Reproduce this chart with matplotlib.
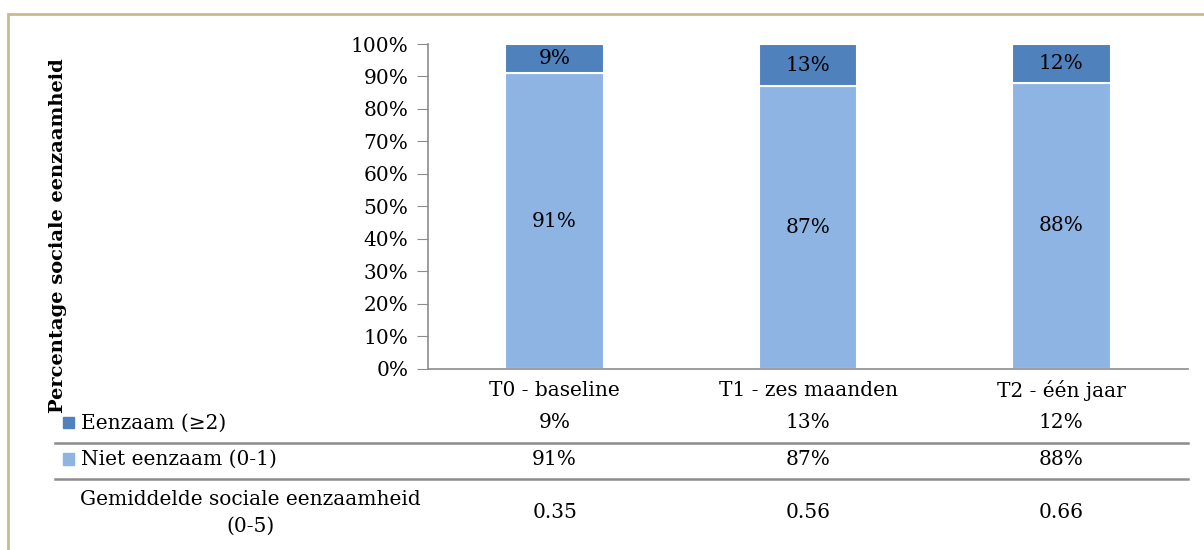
import matplotlib.pyplot as plt
from matplotlib.patches import Rectangle
from matplotlib.ticker import PercentFormatter

plt.rcParams['font.family'] = ['DejaVu Serif']

# Data
categories = ["T0 - baseline", "T1 - zes maanden", "T2 - één jaar"]
niet_eenzaam = [91, 87, 88]
eenzaam = [9, 13, 12]
gemiddelde = [0.35, 0.56, 0.66]

row_labels = ["Eenzaam (≥2)", "Niet eenzaam (0-1)", "Gemiddelde sociale eenzaamheid\n(0-5)"]
dark_blue = "#4F81BD"
light_blue = "#8EB4E3"
grid_gray = "#8C8C8C"

fig = plt.figure(figsize=(12.04, 5.5), dpi=100)
ax = fig.add_axes([0.3555, 0.3291, 0.6312, 0.5909])

x = range(len(categories))
ax.bar(x, niet_eenzaam, width=0.39, color=light_blue, edgecolor="white", linewidth=1.5)
ax.bar(x, eenzaam, width=0.39, bottom=niet_eenzaam, color=dark_blue,
       edgecolor="white", linewidth=1.5)

fs = 14.5
for i in x:
    ax.text(i, niet_eenzaam[i] / 2, f"{niet_eenzaam[i]}%", ha="center", va="center", fontsize=fs)
    ax.text(i, niet_eenzaam[i] + eenzaam[i] / 2, f"{eenzaam[i]}%", ha="center", va="center", fontsize=fs)

ax.set_xlim(-0.5, 2.5)
ax.set_ylim(0, 100)
ax.set_yticks(range(0, 101, 10))
ax.yaxis.set_major_formatter(PercentFormatter(decimals=0))
ax.tick_params(axis="y", length=8, color=grid_gray, labelsize=fs, pad=6)
ax.tick_params(axis="x", length=0, labelbottom=False)
for side in ["top", "right"]:
    ax.spines[side].set_visible(False)
for side in ["left", "bottom"]:
    ax.spines[side].set_color(grid_gray)
    ax.spines[side].set_linewidth(1.2)

ax.set_ylabel("Percentage sociale eenzaamheid", fontsize=14, fontweight="bold")
ax.yaxis.set_label_coords(-0.475, 0.41)

# Data table under the plot
tr = ax.get_xaxis_transform()
cat_y = -0.065
row_y = [-0.166, -0.277, -0.443]
line_y = [-0.228, -0.338]

for i, cat in enumerate(categories):
    ax.text(i, cat_y, cat, transform=tr, ha="center", va="center", fontsize=fs, clip_on=False)
    ax.text(i, row_y[0], f"{eenzaam[i]}%", transform=tr, ha="center", va="center", fontsize=fs)
    ax.text(i, row_y[1], f"{niet_eenzaam[i]}%", transform=tr, ha="center", va="center", fontsize=fs)
    ax.text(i, row_y[2], f"{gemiddelde[i]:.2f}", transform=tr, ha="center", va="center", fontsize=fs)

for ly in line_y:
    ax.plot([-0.491, 1.0], [ly, ly], transform=ax.transAxes, color=grid_gray,
            lw=1.8, clip_on=False)

ax.text(-0.4566, row_y[0], row_labels[0], transform=ax.transAxes, ha="left", va="center", fontsize=fs)
ax.text(-0.4566, row_y[1], row_labels[1], transform=ax.transAxes, ha="left", va="center", fontsize=fs)
ax.text(-0.234, row_y[2], row_labels[2], transform=ax.transAxes, ha="center", va="center",
        fontsize=fs, linespacing=1.5)

# legend keys in the table
for ry, col in zip(row_y[:2], [dark_blue, light_blue]):
    ax.add_patch(Rectangle((-0.480, ry - 0.017), 0.0145, 0.034, transform=ax.transAxes,
                           color=col, clip_on=False))

# outer frame
fig.patches.append(Rectangle((8 / 1204, -0.1), 1.2, 1 - 14 / 550 + 0.1, transform=fig.transFigure,
                             fill=False, edgecolor="#C9BC8C", linewidth=2))

fig.savefig("out.png", dpi=100)
